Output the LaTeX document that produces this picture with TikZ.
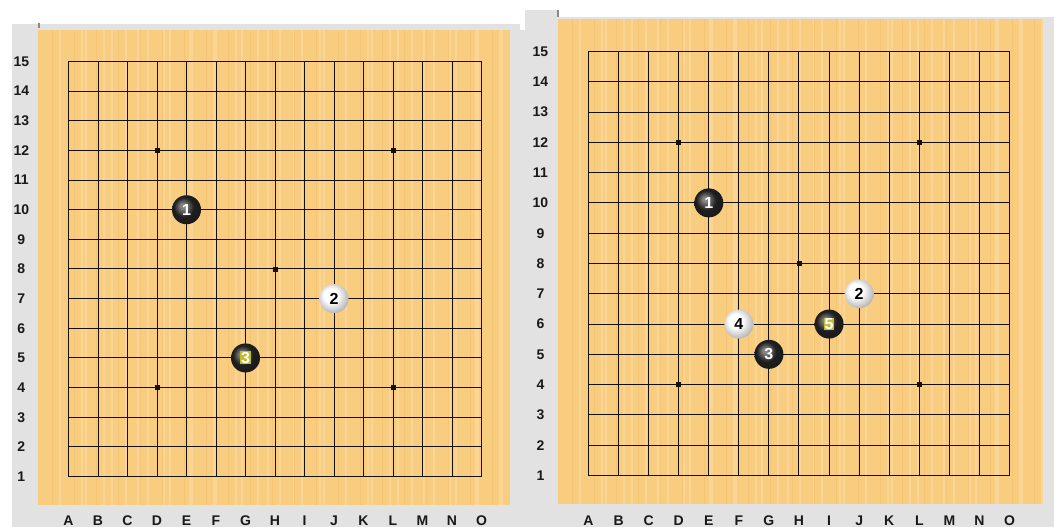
\documentclass[tikz,border=0pt]{standalone}
\usepackage{fontspec}
\setmainfont{Liberation Sans}
\usetikzlibrary{positioning}
\definecolor{wood}{HTML}{F8CD80}
\definecolor{woodlt}{HTML}{FAD596}
\definecolor{wooddk}{HTML}{F4C574}
\definecolor{panel}{HTML}{E2E2E2}
\definecolor{tick}{HTML}{8A8A8A}
\definecolor{gridline}{HTML}{141009}
\definecolor{lastmove}{HTML}{BDBD2E}
\colorlet{bhigh}{black!48}
\colorlet{bmid}{black!88}
\colorlet{bedge}{black!94}
\colorlet{wedge}{black!30}

% stone shadings, light from upper left
\pgfdeclareradialshading{blackstone}{\pgfpoint{-7bp}{7bp}}{color(0bp)=(bhigh); color(4bp)=(bhigh); color(17bp)=(bmid); color(50bp)=(bedge)}
\pgfdeclareradialshading{whitestone}{\pgfpoint{-7bp}{7bp}}{color(0bp)=(white); color(12bp)=(white); color(29bp)=(wedge); color(50bp)=(wedge)}

% wooden board with vertical grain
\newcommand\woodboard[4]{%
  \begin{scope}
    \clip (#1,#2) rectangle (#3,#4);
    \fill[wood] (#1,#2) rectangle (#3,#4);
    \pgfmathtruncatemacro\nstripes{(#3-#1)/2}
    \foreach \i in {1,...,\nstripes} {
      \pgfmathtruncatemacro\k{mod(\i*7,11)}
      \pgfmathtruncatemacro\j{mod(\i*5,13)}
      \ifnum\k=0 \draw[woodlt, line width=1.2pt] ({#1+2*\i},#2) -- ({#1+2*\i},#4); \fi
      \ifnum\j=3 \draw[woodlt, line width=1.6pt] ({#1+2*\i},#2) -- ({#1+2*\i},#4); \fi
      \ifnum\k=5 \draw[wooddk, line width=0.7pt] ({#1+2*\i},#2) -- ({#1+2*\i},#4); \fi
    }
  \end{scope}}

% 15x15 grid lines on whole pixels: left x, top y, step x, step y
\newcommand\gogrid[4]{%
  \pgfmathsetmacro\gleft{round(#1)+0.5}
  \pgfmathsetmacro\gright{round(#1+14*#3)+0.5}
  \pgfmathsetmacro\gtop{round(#2)+0.5}
  \pgfmathsetmacro\gbot{round(#2+14*#4)+0.5}
  \foreach \i in {0,...,14} {
    \pgfmathsetmacro\gx{round(#1+#3*\i)+0.5}
    \pgfmathsetmacro\gy{round(#2+#4*\i)+0.5}
    \draw[gridstyle] (\gx,\gtop) -- (\gx,\gbot);
    \draw[gridstyle] (\gleft,\gy) -- (\gright,\gy);
  }}

% star points and coordinates (inner units = one cell)
\newcommand\goboard[1]{%
  \foreach \p in {(3,11),(11,11),(7,7),(3,3),(11,3)}
    \fill[gridline] \p ++(-2.5pt,-2.5pt) rectangle ++(5pt,5pt);
  \foreach \r in {1,...,15}
    \node[coordlabel] (#1-row-\r) at (-1.6,{\r-1}) {\r};
  \foreach \l [count=\c from 0] in {A,B,C,D,E,F,G,H,I,J,K,L,M,N,O}
    \node[coordlabel] (#1-col-\l) at (\c,-1.485) {\l};
}

\begin{document}
\begin{tikzpicture}[
    x=1pt, y=-1pt,
    gridstyle/.style={gridline, line width=1pt, line cap=rect},
    coordlabel/.style={text=black!90, font=\bfseries\fontsize{14}{14}\selectfont, inner sep=0pt},
    stone/.style={circle, minimum size=29pt, inner sep=0pt, shade,
      font=\bfseries\fontsize{16}{16}\selectfont},
    bstone/.style={stone, shading=blackstone, text=white},
    wstone/.style={stone, shading=whitestone, text=black},
  ]
  \useasboundingbox (0,0) rectangle (1054,527);
  \fill[white] (0,0) rectangle (1054,527);

  % === Window backgrounds ===
  \fill[panel] (12,24) rectangle (520,527);
  \fill[panel] (520,30) rectangle (1054,527);
  \fill[panel] (525,10) rectangle (558,30);
  \fill[panel] (558,17) rectangle (1054,30);
  \draw[tick, line width=1.5pt] (39,23) -- (39,28);
  \draw[tick, line width=1.5pt] (558,10) -- (558,17);

  % === Left board: after move 3 ===
  \woodboard{38}{30}{510}{505}
  \gogrid{68}{61}{29.5}{29.64}
  \begin{scope}[shift={(68.5,476.5)}, x=29.5pt, y=29.64pt]
    \goboard{left}
    \node[bstone] (left-1) at (4,9) {1};
    \node[wstone] (left-2) at (9,6) {2};
    \node[bstone] (left-3) at (6,4) {\setlength\fboxsep{0.8pt}\colorbox{lastmove}{3}};
  \end{scope}

  % === Right board: after move 5 ===
  \woodboard{558}{19}{1043}{504}
  \gogrid{588}{51}{30.07}{30.29}
  \begin{scope}[shift={(588.5,475.5)}, x=30.07pt, y=30.29pt]
    \goboard{right}
    \node[bstone] (right-1) at (4,9) {1};
    \node[wstone] (right-2) at (9,6) {2};
    \node[bstone] (right-3) at (6,4) {3};
    \node[wstone] (right-4) at (5,5) {4};
    \node[bstone] (right-5) at (8,5) {\setlength\fboxsep{0.8pt}\colorbox{lastmove}{5}};
  \end{scope}

\end{tikzpicture}
\end{document}
